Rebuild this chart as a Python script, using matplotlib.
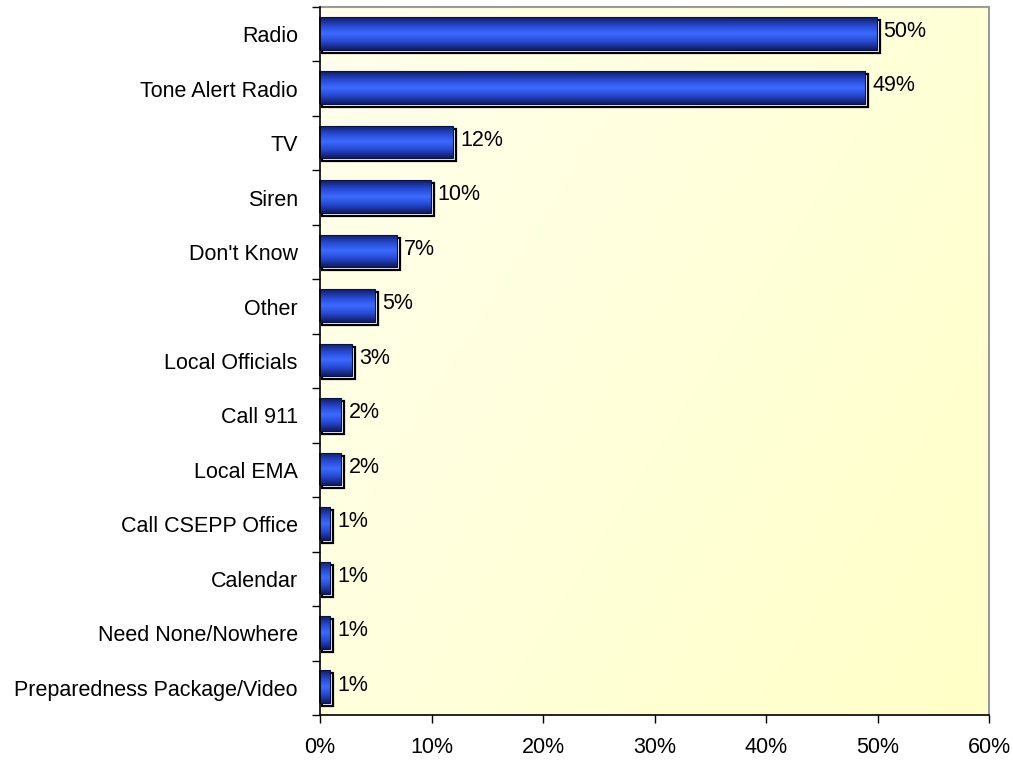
import numpy as np
import matplotlib
matplotlib.use("Agg")
import matplotlib.pyplot as plt
from matplotlib.colors import LinearSegmentedColormap
from matplotlib.patches import Rectangle
import matplotlib.transforms as mtransforms

categories = ["Radio", "Tone Alert Radio", "TV", "Siren", "Don't Know", "Other",
              "Local Officials", "Call 911", "Local EMA", "Call CSEPP Office",
              "Calendar", "Need None/Nowhere", "Preparedness Package/Video"]
values = [50, 49, 12, 10, 7, 5, 3, 2, 2, 1, 1, 1, 1]
xticks = [0, 10, 20, 30, 40, 50, 60]

plt.rcParams['font.family'] = ['Liberation Sans', 'DejaVu Sans']
FS = 15.5

fig = plt.figure(figsize=(10.13, 7.6), dpi=100)
ax = fig.add_axes([320 / 1013, 1 - 715 / 760, (989 - 320) / 1013, (715 - 7) / 760])

n = len(categories)
ax.set_xlim(0, 60)
ax.set_ylim(n - 0.5, -0.5)

# pale yellow plot-area fill, lighter toward the upper left
yy, xx = np.mgrid[0:1:200j, 0:1:200j]
t = np.clip(0.6 * xx + 0.4 * yy, 0, 1)
c0 = np.array([1.0, 1.0, 0.93])
c1 = np.array([1.0, 1.0, 0.78])
bg = c0[None, None, :] * (1 - t[..., None]) + c1[None, None, :] * t[..., None]
ax.imshow(bg, extent=[0, 60, n - 0.5, -0.5], aspect='auto', zorder=0)

# vertical shading for the bars: dark edges, bright centre
bar_cmap = LinearSegmentedColormap.from_list(
    "barshade", ["#101c60", "#2548d0", "#3a6bff", "#2548d0", "#101c60"])
grad = np.linspace(0, 1, 64).reshape(-1, 1)

h = 0.6
shadow = mtransforms.offset_copy(ax.transData, fig=fig, x=2, y=-2, units='dots')
shift = mtransforms.offset_copy(ax.transData, fig=fig, x=-1, y=1, units='dots')
for i, v in enumerate(values):
    ax.add_patch(Rectangle((0, i - h / 2), v, h, facecolor='white',
                           edgecolor='black', linewidth=1.6, transform=shadow, zorder=2))
    im = ax.imshow(grad, cmap=bar_cmap, extent=[0, v, i + h / 2, i - h / 2],
                   aspect='auto', zorder=3, transform=shift)
    clip = Rectangle((0, i - h / 2), v, h, transform=shift)
    im.set_clip_path(clip)
    ax.add_patch(Rectangle((0, i - h / 2), v, h, facecolor='none',
                           edgecolor='#0b1440', linewidth=0.8, transform=shift, zorder=4))
    ax.text(v + 0.55, i - 0.05, f"{v}%", va='center', ha='left', fontsize=FS, zorder=5)

ax.set_yticks(np.arange(n))
ax.set_yticklabels(categories, fontsize=FS)
ax.set_yticks(np.arange(n + 1) - 0.5, minor=True)
ax.tick_params(axis='y', which='major', length=0, pad=16)
ax.tick_params(axis='y', which='minor', length=6, width=1, color='black')
ax.set_xticks(xticks)
ax.set_xticklabels([f"{x}%" for x in xticks], fontsize=FS)
ax.tick_params(axis='x', length=6, width=1, pad=10, direction='out')

for side in ['left', 'bottom']:
    ax.spines[side].set_color('black')
    ax.spines[side].set_linewidth(1.2)
    ax.spines[side].set_zorder(6)
for side in ['top', 'right']:
    ax.spines[side].set_color('#9a9a9a')
    ax.spines[side].set_linewidth(1.5)

fig.savefig("out.png", dpi=100)
